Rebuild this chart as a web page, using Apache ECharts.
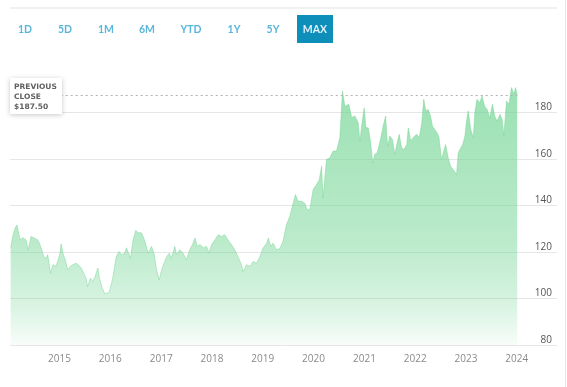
<!DOCTYPE html>
<html>
<head>
<meta charset="utf-8">
<script src="https://cdn.jsdelivr.net/npm/echarts@6/dist/echarts.min.js"></script>
<style>
  html, body { margin: 0; padding: 0; background: #ffffff; }
  #chart { width: 567px; height: 387px; }
</style>
</head>
<body>
<div id="chart"></div>
<script>
// ---- Data ----
const dates = [
  '2014-01-15','2014-02-01','2014-02-17','2014-03-02','2014-03-11','2014-03-25','2014-04-11','2014-05-05','2014-05-22','2014-06-10',
  '2014-07-04','2014-07-28','2014-08-10','2014-08-21','2014-09-10','2014-09-26','2014-10-08','2014-10-28','2014-11-14','2014-12-07',
  '2014-12-19','2015-01-02','2015-01-13','2015-01-25','2015-02-11','2015-03-01','2015-03-19','2015-04-06','2015-04-29','2015-05-16',
  '2015-06-05','2015-06-24','2015-07-10','2015-07-22','2015-08-11','2015-08-27','2015-09-14','2015-10-03','2015-10-15','2015-11-01',
  '2015-11-20','2015-12-09','2015-12-26','2016-01-19','2016-02-12','2016-03-04','2016-03-21','2016-04-14','2016-04-26','2016-05-08',
  '2016-05-25','2016-06-13','2016-07-02','2016-07-18','2016-08-12','2016-08-24','2016-09-13','2016-09-29','2016-10-23','2016-11-10',
  '2016-11-29','2016-12-17','2017-01-04','2017-01-21','2017-02-10','2017-02-28','2017-03-15','2017-04-09','2017-04-21','2017-05-14',
  '2017-06-07','2017-07-01','2017-07-25','2017-08-14','2017-09-01','2017-09-17','2017-10-06','2017-10-30','2017-11-23','2017-12-11',
  '2017-12-29','2018-01-22','2018-02-15','2018-03-10','2018-04-03','2018-04-26','2018-05-20','2018-06-14','2018-07-07','2018-08-01',
  '2018-08-12','2018-09-07','2018-10-01','2018-10-24','2018-11-17','2018-12-11','2019-01-04','2019-01-29','2019-02-10','2019-02-28',
  '2019-03-15','2019-04-10','2019-05-03','2019-05-26','2019-06-20','2019-07-14','2019-08-07','2019-08-24','2019-09-12','2019-10-06',
  '2019-10-30','2019-11-16','2019-12-05','2019-12-29','2020-01-22','2020-02-11','2020-02-28','2020-03-09','2020-04-03','2020-04-27',
  '2020-05-20','2020-06-14','2020-07-08','2020-07-27','2020-08-13','2020-08-25','2020-09-11','2020-10-01','2020-10-24','2020-11-17',
  '2020-11-29','2020-12-15','2020-12-30','2021-01-12','2021-01-28','2021-02-15','2021-03-01','2021-03-16','2021-04-02','2021-04-21',
  '2021-05-15','2021-06-02','2021-06-16','2021-07-02','2021-07-21','2021-08-07','2021-08-24','2021-09-08','2021-09-25','2021-10-12',
  '2021-11-01','2021-11-12','2021-11-30','2021-12-17','2022-01-11','2022-01-30','2022-02-17','2022-03-03','2022-03-18','2022-04-04',
  '2022-04-21','2022-05-05','2022-05-21','2022-06-07','2022-06-21','2022-07-09','2022-07-25','2022-08-07','2022-08-26','2022-09-12',
  '2022-10-01','2022-10-25','2022-11-06','2022-11-18','2022-12-08','2022-12-24','2023-01-06','2023-01-17','2023-02-04','2023-02-23',
  '2023-03-05','2023-03-21','2023-04-10','2023-04-26','2023-05-15','2023-06-02','2023-06-21','2023-07-10','2023-07-26','2023-08-12',
  '2023-09-02','2023-09-18','2023-09-30','2023-10-19','2023-11-05','2023-11-24','2023-12-11','2023-12-23','2024-01-04'
];
const closes = [
  121.8,127.4,130.5,131.6,128.7,125.2,126.1,125.2,121.0,126.7,
  126.0,125.2,123.8,121.8,118.0,117.3,118.8,110.9,114.5,113.8,
  114.5,118.8,123.5,119.5,116.6,112.3,113.8,114.5,115.2,114.5,
  113.1,110.9,108.7,105.1,108.7,107.2,109.4,113.1,108.7,105.1,
  102.2,102.2,103.0,108.9,117.8,120.2,118.8,119.5,121.8,121.0,
  117.3,125.2,129.3,128.4,128.2,126.7,123.2,119.5,122.4,119.5,
  112.3,108.0,112.3,115.2,118.0,119.5,117.3,122.4,118.8,121.0,
  119.5,116.6,121.0,123.2,126.0,122.4,123.2,121.8,122.4,119.5,
  123.2,125.2,127.4,126.7,127.4,125.2,123.2,121.0,118.0,114.5,
  111.6,114.5,113.8,115.9,115.2,118.0,121.8,123.8,126.0,122.4,
  123.8,121.0,121.4,124.5,131.7,135.3,141.0,144.7,141.8,141.8,
  141.0,138.2,138.2,146.9,149.0,151.1,156.9,143.2,159.8,160.5,
  163.4,163.4,169.2,189.2,182.7,182.0,183.5,177.8,178.5,175.6,
  167.7,175.6,182.0,173.4,173.4,167.0,158.3,162.0,162.7,167.0,
  174.1,178.5,165.5,169.9,168.4,162.0,167.0,170.6,164.8,164.1,
  166.2,173.4,167.7,169.2,170.6,169.2,175.6,185.7,180.7,181.3,
  178.5,174.1,172.7,171.3,169.2,159.8,163.4,166.2,160.5,156.9,
  155.5,153.3,162.7,164.1,166.2,169.9,177.0,180.7,172.7,169.2,
  179.9,185.7,184.2,187.1,182.7,181.3,177.8,183.5,178.5,176.3,
  179.2,177.0,169.9,184.9,183.5,190.7,187.9,190.7,187.5
];
const yearTicks = [2015, 2016, 2017, 2018, 2019, 2020, 2021, 2022, 2023, 2024];
const yTicks = [80, 100, 120, 140, 160, 180];
const previousClose = 187.50;
const rangeButtons = ['1D', '5D', '1M', '6M', 'YTD', '1Y', '5Y', 'MAX'];
const activeRange = 'MAX';

// ---- Build chart ----
function toTime(s) {
  const p = s.split('-').map(Number);
  return +new Date(p[0], p[1] - 1, p[2]);
}
const seriesData = dates.map((d, i) => [toTime(d), closes[i]]);
const xMin = toTime('2014-01-10');
const xMax = toTime('2024-10-16');
const yearValues = yearTicks.map(y => +new Date(y, 0, 1));

const btnX = [25, 65, 106, 147, 191, 234, 273, 315];
const graphics = [
  { type: 'rect', z: 100, shape: { x: 10, y: 7, width: 547, height: 2 }, style: { fill: '#f1f1f1' } },
  { type: 'rect', z: 100, shape: { x: 565, y: 0, width: 1, height: 387 }, style: { fill: '#e4e4e4' } },
];
rangeButtons.forEach((lab, i) => {
  if (lab === activeRange) {
    graphics.push({ type: 'rect', z: 100, shape: { x: 297, y: 15, width: 36, height: 28 }, style: { fill: '#0e8fba' } });
  }
  graphics.push({
    type: 'text', z: 101, x: btnX[i], y: 30,
    style: {
      text: lab, align: 'center', verticalAlign: 'middle',
      font: 'bold 10.5px Lato, "Open Sans", sans-serif',
      fill: lab === activeRange ? '#dff1f8' : '#5ab6dc'
    }
  });
});
graphics.push({
  type: 'rect', z: 100,
  shape: { x: 10, y: 78, width: 52, height: 36 },
  style: { fill: '#ffffff', shadowBlur: 5, shadowColor: 'rgba(0,0,0,0.22)', shadowOffsetX: 0, shadowOffsetY: 1 }
});
graphics.push({
  type: 'text', z: 101, x: 14, y: 82,
  style: {
    text: 'PREVIOUS\nCLOSE\n$' + previousClose.toFixed(2),
    font: '600 7.5px "DejaVu Sans", sans-serif',
    lineHeight: 10, fill: '#606060', align: 'left', verticalAlign: 'top'
  }
});

const chart = echarts.init(document.getElementById('chart'), null, { renderer: 'canvas' });
chart.setOption({
  animation: false,
  backgroundColor: '#ffffff',
  grid: { left: 10, right: 10, top: 66, bottom: 42, containLabel: false },
  xAxis: {
    type: 'value',
    min: xMin, max: xMax,
    axisLine: { show: false },
    axisTick: { show: false },
    splitLine: { show: false },
    axisLabel: {
      customValues: yearValues,
      formatter: v => String(new Date(v).getFullYear()),
      color: '#8a8a8a', fontSize: 10, margin: 9,
      fontFamily: '"Open Sans", sans-serif'
    }
  },
  yAxis: {
    type: 'value',
    position: 'right',
    min: 80, max: 200, interval: 20,
    axisLine: { show: false },
    axisTick: { show: false },
    splitLine: { show: true, showMaxLine: false, lineStyle: { color: '#e6e6e6', width: 1 } },
    axisLabel: {
      inside: true, verticalAlign: 'bottom', margin: 5,
      showMaxLabel: false,
      color: '#555555', fontSize: 10,
      fontFamily: '"Open Sans", sans-serif'
    }
  },
  graphic: graphics,
  series: [{
    type: 'line',
    data: seriesData,
    showSymbol: false,
    symbol: 'none',
    smooth: false,
    lineStyle: { width: 0.5, color: 'rgba(112,210,144,0.9)' },
    areaStyle: {
      origin: 'start',
      color: new echarts.graphic.LinearGradient(0, 0, 0, 1, [
        { offset: 0, color: 'rgba(112,212,146,1)' },
        { offset: 0.6, color: 'rgba(112,212,146,0.68)' },
        { offset: 0.85, color: 'rgba(112,212,146,0.38)' },
        { offset: 1, color: 'rgba(112,212,146,0.07)' }
      ])
    },
    markLine: {
      silent: true,
      symbol: 'none',
      label: { show: false },
      lineStyle: { color: '#b0b0b0', type: [2, 3], width: 1 },
      data: [[
        { coord: [seriesData[0][0], previousClose] },
        { coord: [seriesData[seriesData.length - 1][0], previousClose] }
      ]]
    }
  }]
});
</script>
</body>
</html>
